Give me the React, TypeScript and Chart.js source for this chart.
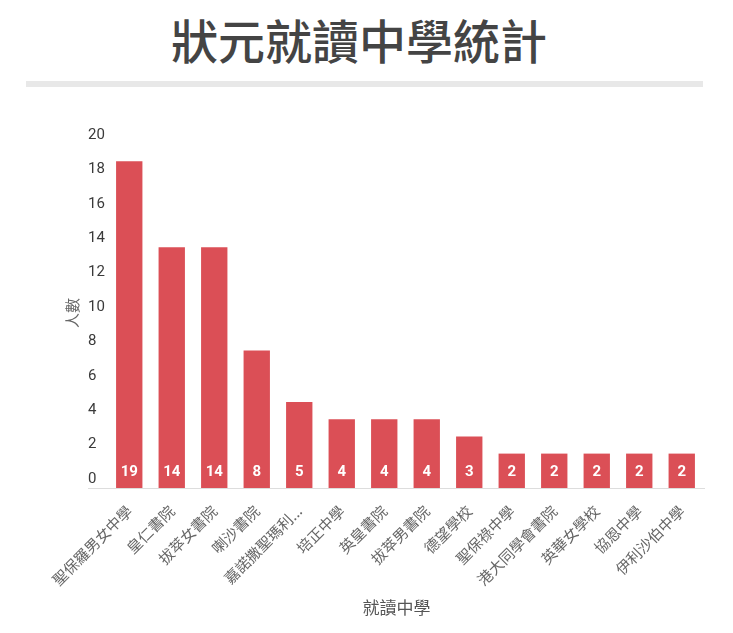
import React, { useEffect, useRef } from 'react';
import { Chart, registerables } from 'chart.js';

Chart.register(...registerables);

const schools: string[] = [
  '聖保羅男女中學',
  '皇仁書院',
  '拔萃女書院',
  '喇沙書院',
  '嘉諾撒聖瑪利書院',
  '培正中學',
  '英皇書院',
  '拔萃男書院',
  '德望學校',
  '聖保祿中學',
  '港大同學會書院',
  '英華女學校',
  '協恩中學',
  '伊利沙伯中學',
];
const counts: number[] = [19, 14, 14, 8, 5, 4, 4, 4, 3, 2, 2, 2, 2, 2];

const titleText = '狀元就讀中學統計';
const yTitle = '人數';
const xTitle = '就讀中學';
const yMin = 0;
const yMax = 20;
const yStep = 2;

const BAR_COLOR = '#db4f56';
const CJK = '"Noto Sans CJK TC", "Noto Sans", sans-serif';
const NUM = 'Roboto, "Noto Sans", sans-serif';

const overlayPlugin = {
  id: 'overlay',
  afterDatasetsDraw(chart: any) {
    const ctx = chart.ctx;
    const yScale = chart.scales.y;
    const base = yScale.getPixelForValue(0);
    const meta = chart.getDatasetMeta(0);
    ctx.save();
    // value labels inside bars
    ctx.fillStyle = '#ffffff';
    ctx.font = `bold 15px ${NUM}`;
    ctx.textAlign = 'center';
    ctx.textBaseline = 'middle';
    meta.data.forEach((bar: any, i: number) => {
      ctx.fillText(String(counts[i]), bar.x, base - 15.5);
    });
    // baseline
    ctx.strokeStyle = '#dddddd';
    ctx.lineWidth = 1;
    ctx.beginPath();
    const yl = Math.round(base) + 0.5;
    ctx.moveTo(yScale.left, yl);
    ctx.lineTo(chart.chartArea.right + 2, yl);
    ctx.stroke();
    // y title
    ctx.fillStyle = '#666666';
    ctx.font = `15px ${CJK}`;
    ctx.save();
    ctx.translate(yScale.left - 16, (chart.chartArea.top + base) / 2 - 3);
    ctx.rotate(-Math.PI / 2);
    ctx.textAlign = 'center';
    ctx.textBaseline = 'middle';
    ctx.fillText(yTitle, 0, 0);
    ctx.restore();
    // x title
    ctx.fillStyle = '#555555';
    ctx.font = `17px ${CJK}`;
    ctx.textAlign = 'center';
    ctx.textBaseline = 'middle';
    ctx.fillText(xTitle, (chart.chartArea.left + chart.chartArea.right) / 2 - 9, chart.chartArea.bottom + 120);
    ctx.restore();
  },
};

export default function App() {
  const canvasRef = useRef<HTMLCanvasElement | null>(null);

  useEffect(() => {
    if (!canvasRef.current) return;
    const chart = new Chart(canvasRef.current, {
      type: 'bar',
      data: {
        labels: schools,
        datasets: [
          {
            data: counts,
            backgroundColor: BAR_COLOR,
            borderWidth: 0,
            barPercentage: 0.62,
            categoryPercentage: 1,
          },
        ],
      },
      options: {
        animation: false,
        responsive: true,
        maintainAspectRatio: false,
        layout: { padding: { left: 80, right: 22, top: 49, bottom: 0 } },
        plugins: {
          legend: { display: false },
          tooltip: { enabled: false },
        },
        scales: {
          x: {
            grid: { display: false },
            border: { display: false },
            afterFit: (scale: any) => {
              scale.height = 137;
            },
            ticks: {
              autoSkip: false,
              maxRotation: 45,
              minRotation: 45,
              padding: 6,
              color: '#666666',
              font: { family: CJK, size: 15 },
              callback: (_v: any, i: number) => {
                const s = schools[i];
                return s.length > 7 ? s.slice(0, 6) + '...' : s;
              },
            },
          },
          y: {
            min: yMin,
            max: yMax,
            grid: { display: false },
            border: { display: false },
            afterFit: (scale: any) => {
              scale.width = 20;
            },
            ticks: {
              stepSize: yStep,
              crossAlign: 'far',
              labelOffset: -9,
              padding: 0,
              color: '#3a3a3a',
              font: { family: NUM, size: 15 },
            },
          },
        },
      },
      plugins: [overlayPlugin],
    });
    return () => chart.destroy();
  }, []);

  return (
    <div style={{ position: 'relative', width: 717, height: 617, background: '#ffffff' }}>
      <div
        style={{
          position: 'absolute',
          left: 163,
          top: 7,
          fontFamily: CJK,
          fontWeight: 500,
          fontSize: 47,
          lineHeight: '48px',
          color: '#444444',
          whiteSpace: 'nowrap',
        }}
      >
        {titleText}
      </div>
      <div
        style={{
          position: 'absolute',
          left: 18,
          top: 73,
          width: 677,
          height: 6,
          background: '#e8e8e8',
        }}
      />
      <div style={{ position: 'absolute', left: 0, top: 87, width: 717, height: 530 }}>
        <canvas ref={canvasRef} />
      </div>
    </div>
  );
}
